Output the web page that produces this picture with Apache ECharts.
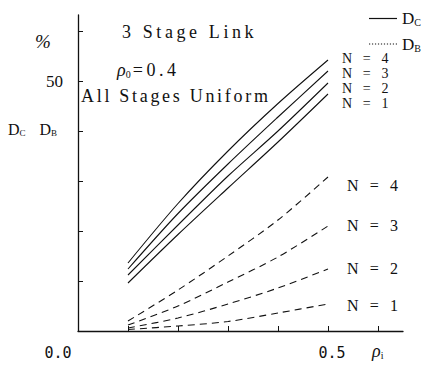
<!DOCTYPE html>
<html>
<head>
<meta charset="utf-8">
<script src="https://cdn.jsdelivr.net/npm/echarts@6/dist/echarts.min.js"></script>
<style>
  html, body { margin: 0; padding: 0; background: #fff; }
  #chart { width: 444px; height: 366px; }
  /* wide typewriter-like spacing for the annotation texts */
  #chart text[style*="Noto Serif"], #chart text[font-family*="Noto Serif"] { letter-spacing: 2.7px; }
  #chart text[style*="Tinos"], #chart text[font-family*="Tinos"] { letter-spacing: 3.6px; }
</style>
</head>
<body>
<div id="chart"></div>
<script>
// rho_i values where the curves are evaluated
const rhoI = [0.1, 0.2, 0.3, 0.4, 0.5];

// D_C (%) for N = 1..4 (solid curves)
const dcN1 = [9.6, 19.3, 28.6, 37.8, 47.4];
const dcN2 = [11.2, 21.2, 31.0, 40.0, 49.6];
const dcN3 = [12.4, 23.5, 33.4, 42.8, 52.0];
const dcN4 = [13.6, 25.5, 36.0, 45.5, 54.2];

// D_B (%) for N = 1..4 (dashed curves)
const dbN1 = [0.3, 1.0, 1.9, 3.6, 5.4];
const dbN2 = [0.6, 2.6, 5.4, 8.6, 12.4];
const dbN3 = [1.2, 5.0, 9.8, 14.8, 21.0];
const dbN4 = [2.0, 8.2, 15.0, 22.2, 30.8];

// axis ticks and labels
const xTicks = [0.1, 0.2, 0.3, 0.4, 0.5, 0.6];
const xLabels = [0, 0.5];
const yTicks = [10, 20, 30, 40, 50, 60];
const yLabels = [50];

const SERIF = "'Liberation Serif', serif";
const SPACED = "'Liberation Serif', 'Noto Serif', serif";
const SPACED_WIDE = "'Liberation Serif', 'Tinos', serif";
const MONO = "'DejaVu Sans Mono', monospace";
const INK = '#111';

function pairs(ys) { return rhoI.map((x, i) => [x, ys[i]]); }

function curve(name, ys, label, dashed, dy, dx, size) {
  return {
    name: name,
    type: 'line',
    data: pairs(ys),
    smooth: 0.3,
    symbol: 'none',
    color: INK,
    lineStyle: { color: INK, width: 1.1, type: dashed ? [7, 5] : 'solid' },
    endLabel: {
      show: true,
      formatter: label,
      color: INK,
      fontFamily: SPACED_WIDE,
      fontSize: size,
      lineHeight: 12,
      offset: [dx, dy]
    },
    emphasis: { disabled: true },
    animation: false
  };
}

// small legend glyphs: a solid bar and a row of dots
const solidIcon = 'path://M0,0H28V1.2H0Z';
let dots = '';
for (let i = 0; i < 10; i++) dots += 'M' + (i * 3) + ',0h1.2v1.2h-1.2z';
const dottedIcon = 'path://' + dots;

const chart = echarts.init(document.getElementById('chart'), null, { renderer: 'svg' });

chart.setOption({
  backgroundColor: '#fff',
  animation: false,
  color: [INK],
  grid: { left: 78, top: 15, right: 41, bottom: 35 },
  legend: {
    orient: 'vertical',
    left: 364,
    top: 5,
    itemWidth: 28,
    itemHeight: 1.2,
    itemGap: 8,
    selectedMode: false,
    data: [
      { name: 'DC', icon: solidIcon, itemStyle: { color: INK } },
      { name: 'DB', icon: dottedIcon, itemStyle: { color: INK } }
    ],
    formatter: n => n === 'DC' ? 'D{s|C}' : 'D{s|B}',
    textStyle: {
      color: INK, fontFamily: SERIF, fontSize: 17,
      rich: { s: { fontFamily: SERIF, fontSize: 10, color: INK, padding: [8, 0, 0, 0] } }
    }
  },
  xAxis: {
    type: 'value',
    min: 0,
    max: 0.65,
    interval: 0.05,
    splitLine: { show: false },
    axisLine: { lineStyle: { color: INK, width: 1.3 } },
    axisTick: { inside: true, length: 5, customValues: xTicks, lineStyle: { color: INK } },
    axisLabel: {
      customValues: xLabels,
      margin: 14,
      formatter: v => v === 0 ? '{a|0.0}' : '{b|0.5}',
      rich: {
        a: { fontFamily: MONO, fontSize: 15, color: INK, padding: [0, 40, 0, 0] },
        b: { fontFamily: MONO, fontSize: 15, color: INK, padding: [0, 0, 0, 8] }
      }
    }
  },
  yAxis: {
    type: 'value',
    min: 0,
    max: 63.2,
    interval: 10,
    splitLine: { show: false },
    axisLine: { lineStyle: { color: INK, width: 1.3 } },
    axisTick: { inside: true, length: 5, customValues: yTicks, lineStyle: { color: INK } },
    axisLabel: {
      customValues: yLabels,
      margin: 15,
      color: INK,
      fontFamily: SERIF,
      fontSize: 17
    }
  },
  graphic: [
    { type: 'text', left: 122, top: 23, style: { text: '3 Stage Link', fontFamily: SPACED_WIDE, fontSize: 18, fill: INK } },
    {
      type: 'text', left: 117, top: 61,
      style: {
        text: '{r|ρ}{s|0}{t|=0.4}',
        rich: {
          r: { fontFamily: SERIF, fontStyle: 'italic', fontSize: 18, fill: INK },
          s: { fontFamily: SERIF, fontSize: 10, fill: INK, padding: [9, 2, 0, 0] },
          t: { fontFamily: SPACED_WIDE, fontSize: 18, fill: INK }
        }
      }
    },
    { type: 'text', left: 81, top: 87, style: { text: 'All Stages Uniform', fontFamily: SPACED, fontSize: 18, fill: INK } },
    { type: 'text', left: 35, top: 32, style: { text: '%', fontFamily: SERIF, fontStyle: 'italic', fontSize: 19, fill: INK } },
    {
      type: 'text', left: 8, top: 121,
      style: {
        text: '{d|D}{s|C}{g| }{d|D}{s|B}',
        rich: {
          d: { fontFamily: SERIF, fontSize: 16, fill: INK },
          s: { fontFamily: SERIF, fontSize: 9, fill: INK, padding: [8, 0, 0, 0] },
          g: { fontFamily: SERIF, fontSize: 16, fill: INK, width: 14 }
        }
      }
    },
    {
      type: 'text', left: 372, top: 342,
      style: {
        text: '{r|ρ}{s|i}',
        rich: {
          r: { fontFamily: SERIF, fontStyle: 'italic', fontSize: 18, fill: INK },
          s: { fontFamily: SERIF, fontSize: 10, fill: INK, padding: [9, 0, 0, 0] }
        }
      }
    }
  ],
  series: [
    curve('DC', dcN4, 'N = 4', false, -2, 6, 14),
    curve('DC', dcN3, 'N = 3', false, 2, 6, 14),
    curve('DC', dcN2, 'N = 2', false, 5, 6, 14),
    curve('DC', dcN1, 'N = 1', false, 9, 6, 14),
    curve('DB', dbN4, 'N = 4', true, 8, 11, 16),
    curve('DB', dbN3, 'N = 3', true, -1, 11, 16),
    curve('DB', dbN2, 'N = 2', true, -1, 11, 16),
    curve('DB', dbN1, 'N = 1', true, 1, 11, 16)
  ]
});
</script>
</body>
</html>
